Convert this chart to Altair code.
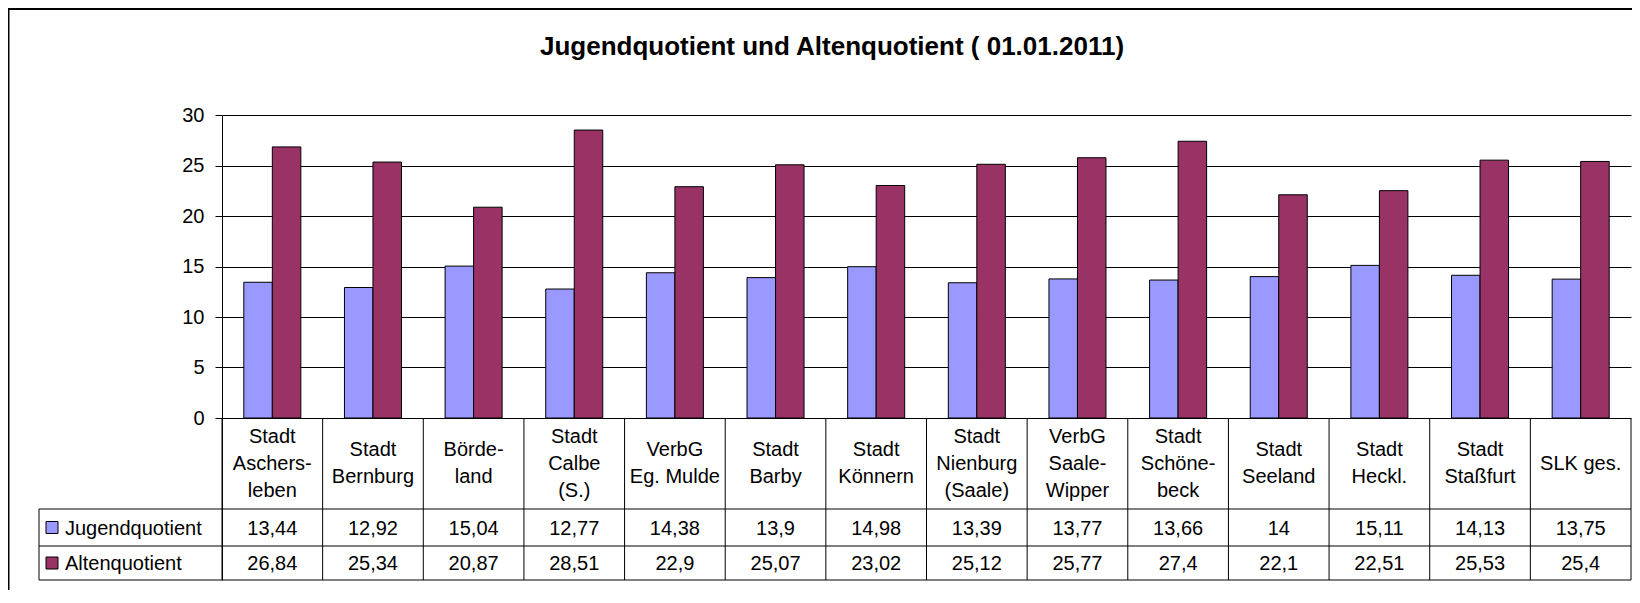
import altair as alt
import pandas as pd

# ---------------- data ----------------
categories = [
    "Stadt\nAschers-\nleben", "Stadt\nBernburg", "Börde-\nland", "Stadt\nCalbe\n(S.)",
    "VerbG\nEg. Mulde", "Stadt\nBarby", "Stadt\nKönnern", "Stadt\nNienburg\n(Saale)",
    "VerbG\nSaale-\nWipper", "Stadt\nSchöne-\nbeck", "Stadt\nSeeland", "Stadt\nHeckl.",
    "Stadt\nStaßfurt", "SLK ges.",
]
series = ["Jugendquotient", "Altenquotient"]
jugend = [13.44, 12.92, 15.04, 12.77, 14.38, 13.9, 14.98, 13.39, 13.77, 13.66, 14.0, 15.11, 14.13, 13.75]
alten = [26.84, 25.34, 20.87, 28.51, 22.9, 25.07, 23.02, 25.12, 25.77, 27.4, 22.1, 22.51, 25.53, 25.4]
colors = ["#9999FF", "#993366"]
y_ticks = [0, 5, 10, 15, 20, 25, 30]
title_text = "Jugendquotient und Altenquotient ( 01.01.2011)"

# ---------------- layout ----------------
FONT = "Liberation Sans"
W = 1409                 # plot width (px)
PLOT_H = 303             # px for 0..30
ROWS_PX = [91, 37, 34]   # header row, row 1, row 2
LINE_H = 27
TABLE_H = sum(ROWS_PX)
H = PLOT_H + TABLE_H
U = 30 / PLOT_H          # data units per px
YMIN = -TABLE_H * U
b1 = -ROWS_PX[0] * U
b2 = -(ROWS_PX[0] + ROWS_PX[1]) * U
header_mid = -(ROWS_PX[0] / 2) * U
row_mid = [-(ROWS_PX[0] + ROWS_PX[1] / 2) * U, -(ROWS_PX[0] + ROWS_PX[1] + ROWS_PX[2] / 2) * U]
LEG_LEFT = -183

rows = []
for s, vals, rm in zip(series, [jugend, alten], row_mid):
    for c, v in zip(categories, vals):
        rows.append({"category": c, "series": s, "value": v,
                     "label": f"{v:g}".replace(".", ","), "rowy": rm})
df = pd.DataFrame(rows)
cat_df = pd.DataFrame({"category": categories})
# first line of each (multi-line) header label, so that the block is centred in the row
cat_df["hy"] = [header_mid + (c.count("\n") / 2) * LINE_H * U for c in categories]
last_df = pd.DataFrame({"category": [categories[-1]]})
leg_df = pd.DataFrame({"series": series, "rowy": row_mid})
hline_df = pd.DataFrame({"y": [b1, b2, YMIN]})
one = pd.DataFrame({"a": [0]})

x_scale = alt.Scale(domain=categories, paddingInner=0, paddingOuter=0)
y_scale = alt.Scale(domain=[YMIN, 30], nice=False, zero=False)
c_scale = alt.Scale(domain=series, range=colors)

y_axis = alt.Axis(values=y_ticks, grid=True, gridColor="black", gridOpacity=1, gridWidth=1,
                  domain=True, domainColor="black", domainWidth=1,
                  ticks=True, tickColor="black", tickSize=7, tickWidth=1,
                  labelFontSize=20, labelFont=FONT, labelColor="black", labelPadding=11,
                  title=None)

bars = alt.Chart(df).mark_bar(stroke="black", strokeWidth=1).encode(
    x=alt.X("category:N", sort=categories, scale=x_scale, axis=None),
    xOffset=alt.XOffset("series:N", sort=series,
                        scale=alt.Scale(domain=series, paddingInner=0, paddingOuter=0.765)),
    y=alt.Y("value:Q", scale=y_scale, axis=y_axis),
    y2=alt.datum(0),
    color=alt.Color("series:N", scale=c_scale, legend=None),
)

vlines = alt.Chart(cat_df).mark_rule(color="black", strokeWidth=1).encode(
    x=alt.X("category:N", sort=categories, scale=x_scale, axis=None, bandPosition=0),
    y=alt.datum(0, scale=y_scale),
    y2=alt.datum(YMIN),
)
vlast = alt.Chart(last_df).mark_rule(color="black", strokeWidth=1).encode(
    x=alt.X("category:N", sort=categories, scale=x_scale, axis=None, bandPosition=1),
    y=alt.datum(0, scale=y_scale),
    y2=alt.datum(YMIN),
)
hlines = alt.Chart(hline_df).mark_rule(color="black", strokeWidth=1).encode(
    x=alt.value(LEG_LEFT), x2=alt.value(W),
    y=alt.Y("y:Q", scale=y_scale),
)
legleft = alt.Chart(one).mark_rule(color="black", strokeWidth=1).encode(
    x=alt.value(LEG_LEFT),
    y=alt.datum(b1, scale=y_scale),
    y2=alt.datum(YMIN),
)

header = alt.Chart(cat_df).mark_text(
    lineBreak="\n", lineHeight=LINE_H, fontSize=20, font=FONT, color="black",
    align="center", baseline="middle"
).encode(
    x=alt.X("category:N", sort=categories, scale=x_scale, axis=None),
    y=alt.Y("hy:Q", scale=y_scale),
    text="category:N",
)

numbers = alt.Chart(df).mark_text(
    fontSize=20, font=FONT, color="black", align="center", baseline="middle", dy=1
).encode(
    x=alt.X("category:N", sort=categories, scale=x_scale, axis=None),
    y=alt.Y("rowy:Q", scale=y_scale),
    text="label:N",
)

leg_sq = alt.Chart(leg_df).mark_point(
    shape="square", filled=True, size=144, stroke="black", strokeWidth=1, opacity=1
).encode(
    x=alt.value(-170),
    y=alt.Y("rowy:Q", scale=y_scale),
    fill=alt.Fill("series:N", scale=c_scale, legend=None),
)
leg_txt = alt.Chart(leg_df).mark_text(
    fontSize=20, font=FONT, color="black", align="left", baseline="middle", dy=1
).encode(
    x=alt.value(-157),
    y=alt.Y("rowy:Q", scale=y_scale),
    text="series:N",
)

title = alt.Chart(one).mark_text(
    text=title_text, fontSize=26, fontWeight="bold", font=FONT, color="black",
    align="center", baseline="alphabetic"
).encode(x=alt.value(610), y=alt.value(-60))

frame_top = alt.Chart(one).mark_rule(color="black", strokeWidth=2).encode(
    x=alt.value(-214), x2=alt.value(W + 10), y=alt.value(-106)
)
frame_left = alt.Chart(one).mark_rule(color="black", strokeWidth=2).encode(
    x=alt.value(-213.5), y=alt.value(-107), y2=alt.value(H + 30)
)

chart = alt.layer(
    frame_top, frame_left, bars, vlines, vlast, hlines, legleft,
    header, numbers, leg_sq, leg_txt, title
).properties(
    width=W, height=H,
    padding={"left": 214, "top": 107, "right": 1, "bottom": 10},
    autosize=alt.AutoSizeParams(type="none"),
    background="white",
).configure(font=FONT).configure_view(stroke=None)

chart.save("out.html", embed_options={"renderer": "svg", "actions": False})
